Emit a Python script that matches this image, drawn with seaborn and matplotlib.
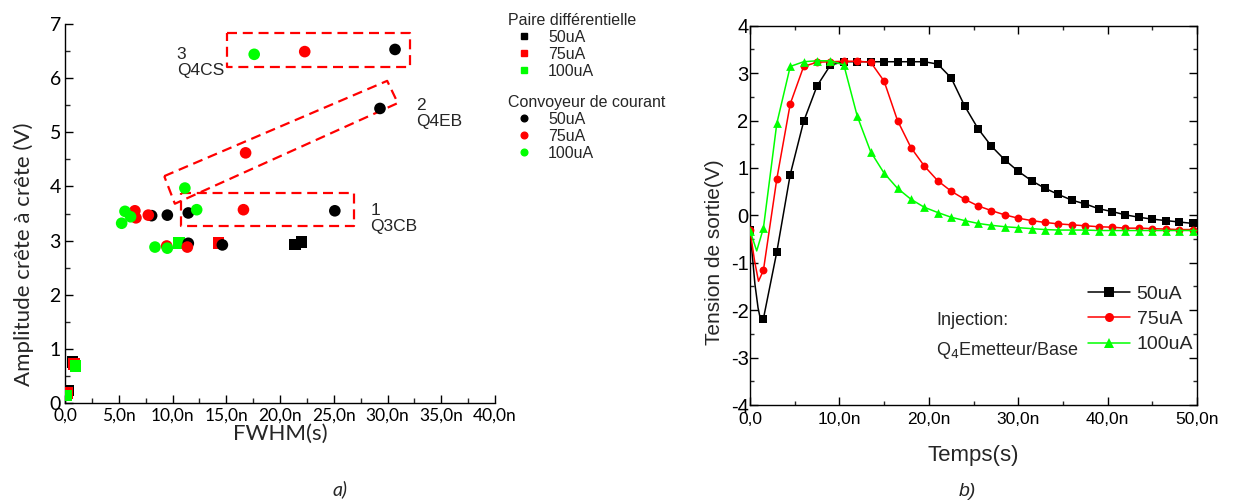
import numpy as np
import pandas as pd
import matplotlib
matplotlib.use("Agg")
import matplotlib.pyplot as plt
import seaborn as sns
from matplotlib.lines import Line2D
from matplotlib.ticker import MultipleLocator, FuncFormatter

# ------------------------------------------------------------------ data a)
currents = ["50uA", "75uA", "100uA"]
colors = ["#000000", "#ff0000", "#00ff00"]
types = ["Paire différentielle", "Convoyeur de courant"]

# Paire différentielle (squares)  FWHM in ns, amplitude in V
pd_50_x = [0.26, 0.70, 21.4, 22.0]
pd_50_y = [0.23, 0.76, 2.93, 2.97]
pd_75_x = [0.18, 0.84, 14.27]
pd_75_y = [0.19, 0.72, 2.95]
pd_100_x = [0.11, 0.98, 10.6]
pd_100_y = [0.14, 0.68, 2.95]

# Convoyeur de courant (circles)
cc_50_x = [30.7, 29.3, 25.1, 14.64, 11.47, 11.47, 9.52, 8.06]
cc_50_y = [6.53, 5.44, 3.55, 2.92, 2.95, 3.51, 3.47, 3.46]
cc_75_x = [22.3, 16.8, 16.6, 11.38, 9.46, 7.75, 6.5, 6.6]
cc_75_y = [6.49, 4.62, 3.57, 2.88, 2.90, 3.47, 3.55, 3.42]
cc_100_x = [17.6, 11.15, 12.25, 5.58, 6.1, 5.27, 8.37, 9.52]
cc_100_y = [6.44, 3.97, 3.57, 3.54, 3.44, 3.32, 2.88, 2.86]

# dashed group outlines (corner points, ns / V)
box1_x = [10.8, 26.9, 26.9, 10.8, 10.8]
box1_y = [3.87, 3.87, 3.26, 3.26, 3.87]
box2_x = [9.23, 29.97, 30.96, 10.22, 9.23]
box2_y = [4.19, 5.95, 5.54, 3.68, 4.19]
box3_x = [15.1, 32.1, 32.1, 15.1, 15.1]
box3_y = [6.83, 6.83, 6.20, 6.20, 6.83]
group_labels = ["1\nQ3CB", "2\nQ4EB", "3\nQ4CS"]
group_label_x = [28.4, 32.7, 10.4]
group_label_y = [3.41, 5.35, 6.29]

# ------------------------------------------------------------------ data b)
t_mark = [0.0, 1.5, 3.0, 4.5, 6.0, 7.5, 9.0, 10.5, 12.0, 13.5, 15.0, 16.5,
          18.0, 19.5, 21.0, 22.5, 24.0, 25.5, 27.0, 28.5, 30.0, 31.5, 33.0,
          34.5, 36.0, 37.5, 39.0, 40.5, 42.0, 43.5, 45.0, 46.5, 48.0, 49.5]
v_50 = [-0.30, -2.18, -0.77, 0.86, 1.98, 2.73, 3.17, 3.24, 3.24, 3.24, 3.24,
        3.24, 3.24, 3.24, 3.19, 2.90, 2.31, 1.83, 1.46, 1.17, 0.93, 0.73,
        0.57, 0.44, 0.32, 0.24, 0.14, 0.08, 0.01, -0.04, -0.08, -0.11,
        -0.14, -0.17]
v_75 = [-0.31, -1.16, 0.77, 2.35, 3.14, 3.23, 3.24, 3.25, 3.25, 3.23, 2.83,
        2.00, 1.43, 1.04, 0.73, 0.51, 0.34, 0.20, 0.10, 0.01, -0.06, -0.11,
        -0.15, -0.18, -0.20, -0.22, -0.24, -0.25, -0.27, -0.27, -0.28,
        -0.29, -0.30, -0.30]
v_100 = [-0.32, -0.27, 1.94, 3.14, 3.24, 3.26, 3.26, 3.17, 2.09, 1.34, 0.89,
         0.57, 0.34, 0.17, 0.06, -0.04, -0.11, -0.17, -0.21, -0.24, -0.26,
         -0.28, -0.30, -0.31, -0.31, -0.31, -0.32, -0.32, -0.32, -0.32,
         -0.32, -0.32, -0.32, -0.32]
# extra points read on the curves between markers (dip and end)
extra_50_t = [0.55, 0.9, 1.2, 50.0]
extra_50_v = [-1.45, -1.95, -2.22, -0.18]
extra_75_t = [0.5, 0.95, 50.0]
extra_75_v = [-0.95, -1.39, -0.30]
extra_100_t = [0.75, 50.0]
extra_100_v = [-0.75, -0.32]

# ------------------------------------------------------------------ style
sns.set_style("ticks")
plt.rcParams["axes.unicode_minus"] = False
plt.rcParams["font.family"] = ["Liberation Sans", "DejaVu Sans"]
FA = ["Lato", "DejaVu Sans"]          # panel a) font (Calibri-like)
FB = ["Liberation Sans", "DejaVu Sans"]  # Arial-like

W, H = 1237, 500
fig = plt.figure(figsize=(W / 100, H / 100), dpi=100)
ax1 = fig.add_axes([65 / W, 1 - 403 / H, 430 / W, 379 / H])
ax2 = fig.add_axes([750 / W, 1 - 405 / H, 447 / W, 379.3 / H])


def nfmt(v, pos):
    if abs(v) < 1e-9:
        return "0,0"
    return f"{v:.1f}n".replace(".", ",")


# ------------------------------------------------------------------ panel a)
rows = []
for typ, xs, ys in [(types[0], [pd_50_x, pd_75_x, pd_100_x], [pd_50_y, pd_75_y, pd_100_y]),
                    (types[1], [cc_50_x, cc_75_x, cc_100_x], [cc_50_y, cc_75_y, cc_100_y])]:
    for cur, xx, yy in zip(currents, xs, ys):
        for a, b in zip(xx, yy):
            rows.append({"type": typ, "current": cur, "fwhm": a, "amp": b})
dfa = pd.DataFrame(rows)

sns.scatterplot(data=dfa, x="fwhm", y="amp", hue="current", style="type",
                markers={types[0]: "s", types[1]: "o"},
                palette=dict(zip(currents, colors)), s=70, linewidth=0,
                legend=False, ax=ax1, zorder=3)

for bx, by in [(box1_x, box1_y), (box2_x, box2_y), (box3_x, box3_y)]:
    ax1.plot(bx, by, color="#ff0000", lw=1.6, linestyle=(0, (4.5, 2.6)),
             zorder=2)
for lab, lx, ly in zip(group_labels, group_label_x, group_label_y):
    ax1.text(lx, ly, lab, ha="left", va="center", fontsize=12.5,
             family=FB, linespacing=1.05)

ax1.set_xlim(0, 40)
ax1.set_ylim(0, 7)
ax1.xaxis.set_major_locator(MultipleLocator(5))
ax1.xaxis.set_minor_locator(MultipleLocator(2.5))
ax1.yaxis.set_major_locator(MultipleLocator(1))
ax1.yaxis.set_minor_locator(MultipleLocator(0.5))
ax1.xaxis.set_major_formatter(FuncFormatter(nfmt))
ax1.tick_params(which="major", direction="in", length=6, width=1,
                colors="black")
ax1.tick_params(which="minor", direction="in", length=3.5, width=1)
ax1.tick_params(axis="x", labelsize=12.5, pad=3.5)
ax1.tick_params(axis="y", labelsize=14, pad=3)
for lab in ax1.get_xticklabels() + ax1.get_yticklabels():
    lab.set_family(FA)
for sp in ["top", "right"]:
    ax1.spines[sp].set_visible(False)
for sp in ["left", "bottom"]:
    ax1.spines[sp].set_linewidth(1.0)
    ax1.spines[sp].set_color("black")
ax1.set_xlabel("FWHM(s)", fontsize=16, family=FA, va="center")
ax1.xaxis.set_label_coords(0.5, -(434 - 403) / 379)
ax1.set_ylabel("Amplitude crête à crête (V)", fontsize=16, family=FA,
               va="center")
ax1.yaxis.set_label_coords((24 - 65) / 430, (403 - 254) / 379)

# legends for a)
def leg_handles(marker):
    return [Line2D([0], [0], linestyle="none", marker=marker, markersize=4.8,
                   markerfacecolor=c, markeredgecolor=c) for c in colors]

common = dict(frameon=False, loc="upper left", borderpad=0, borderaxespad=0,
              handlelength=2.0, handletextpad=0.5, labelspacing=0.12,
              alignment="left", prop={"family": FB, "size": 11.5},
              title_fontproperties={"family": FB, "size": 11.5})
fig.legend(handles=leg_handles("s"), labels=currents, title=types[0],
           bbox_to_anchor=(508 / W, 1 - 13 / H), **common)
fig.legend(handles=leg_handles("o"), labels=currents, title=types[1],
           bbox_to_anchor=(508 / W, 1 - 95 / H), **common)

# ------------------------------------------------------------------ panel b)
series = [(v_50, extra_50_t, extra_50_v, "s", 26),
          (v_75, extra_75_t, extra_75_v, "o", 32),
          (v_100, extra_100_t, extra_100_v, "^", 40)]
for i, ((vm, et, ev, mk, ms), c) in enumerate(zip(series, colors)):
    dl = pd.DataFrame({"t": list(t_mark) + list(et), "v": list(vm) + list(ev)})
    dl = dl.sort_values("t")
    sns.lineplot(data=dl, x="t", y="v", color=c, lw=1.1, sort=False,
                 estimator=None, ax=ax2, zorder=2 + 2 * i)
    sns.scatterplot(x=t_mark, y=vm, marker=mk, color=c, s=ms, linewidth=0,
                    ax=ax2, zorder=3 + 2 * i, legend=False)

ax2.set_xlim(0, 50)
ax2.set_ylim(-4, 4)
ax2.xaxis.set_major_locator(MultipleLocator(10))
ax2.xaxis.set_minor_locator(MultipleLocator(5))
ax2.yaxis.set_major_locator(MultipleLocator(1))
ax2.yaxis.set_minor_locator(MultipleLocator(0.5))
ax2.xaxis.set_major_formatter(FuncFormatter(nfmt))
ax2.tick_params(which="major", direction="in", length=5.5, width=1,
                top=True, right=True, colors="black")
ax2.tick_params(which="minor", direction="in", length=3, width=1,
                top=True, right=True)
ax2.tick_params(axis="x", labelsize=12.5, pad=5)
ax2.tick_params(axis="y", labelsize=14.5, pad=1)
for lab in ax2.get_xticklabels() + ax2.get_yticklabels():
    lab.set_family(FB)
for sp in ax2.spines.values():
    sp.set_linewidth(1.0)
    sp.set_color("black")
ax2.set_xlabel("Temps(s)", fontsize=16, family=FB, va="center")
ax2.xaxis.set_label_coords(0.5, -(455 - 405) / 379.3)
ax2.set_ylabel("Tension de sortie(V)", fontsize=15, family=FB, va="center")
ax2.yaxis.set_label_coords((715 - 750) / 447, (405 - 252) / 379.3)

ax2.text(20.8, -2.21, "Injection:", ha="left", va="center", fontsize=13,
         family=FB)
ax2.text(20.8, -2.86, "Q$_4$Emetteur/Base", ha="left", va="center",
         fontsize=13, family=FB)

hb = [Line2D([0], [0], color=c, lw=1.1, marker=m, markersize=6.5,
             markeredgewidth=0, markerfacecolor=c)
      for c, m in zip(colors, ["s", "o", "^"])]
fig.legend(handles=hb, labels=currents, frameon=False, loc="upper left",
           bbox_to_anchor=(1088 / W, 1 - 285 / H), borderpad=0,
           borderaxespad=0, handlelength=2.15, handletextpad=0.35,
           labelspacing=0.4, prop={"family": FB, "size": 14})

fig.text(340 / W, 1 - 489 / H, "a)", ha="center", va="center", fontsize=14,
         style="italic", family=FA)
fig.text(967 / W, 1 - 491 / H, "b)", ha="center", va="center", fontsize=14,
         style="italic", family=FB)

fig.savefig("out.png", dpi=100)
